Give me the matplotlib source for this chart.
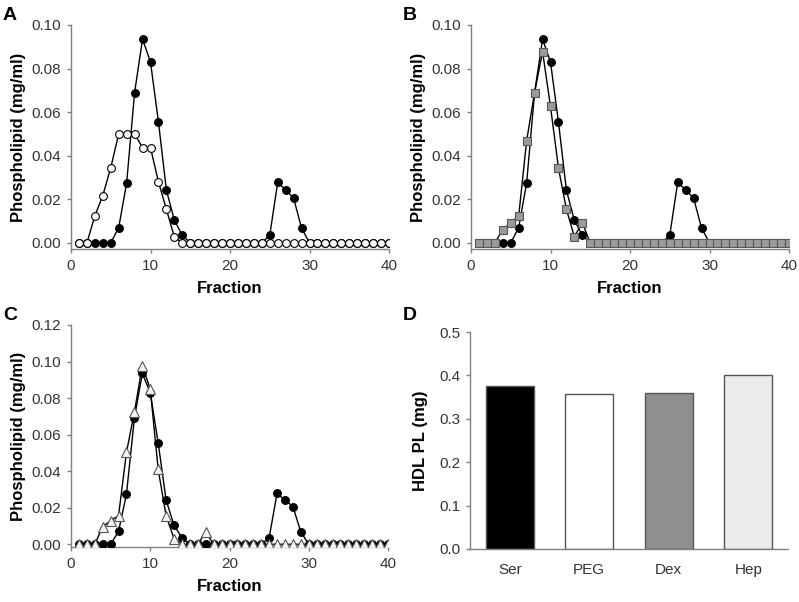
import numpy as np
import matplotlib
matplotlib.use("Agg")
import matplotlib.pyplot as plt

plt.rcParams['font.family'] = ['Liberation Sans', 'DejaVu Sans']

fraction = np.arange(1, 41)

# serum (black circles), same profile in A, B, C
ser = [0, 0, 0, 0, 0, 0.007, 0.0275, 0.069, 0.0935, 0.083,
       0.0555, 0.0242, 0.0104, 0.0035, 0, 0, 0, 0, 0, 0,
       0, 0, 0, 0, 0.0035, 0.0278, 0.0243, 0.0206, 0.0068, 0,
       0, 0, 0, 0, 0, 0, 0, 0, 0, 0]

# PEG (open circles)
peg = [0, 0, 0.0124, 0.0217, 0.0345, 0.050, 0.050, 0.050, 0.0437, 0.0437,
       0.028, 0.0154, 0.0027, 0, 0, 0, 0, 0, 0, 0,
       0, 0, 0, 0, 0, 0, 0, 0, 0, 0,
       0, 0, 0, 0, 0, 0, 0, 0, 0, 0]

# dextran (grey squares)
dex = [0, 0, 0, 0.0061, 0.0093, 0.0124, 0.0469, 0.069, 0.0878, 0.0626,
       0.0344, 0.0154, 0.0029, 0.0093, 0, 0, 0, 0, 0, 0,
       0, 0, 0, 0, 0, 0, 0, 0, 0, 0,
       0, 0, 0, 0, 0, 0, 0, 0, 0, 0]

# heparin (light triangles)
hep = [0, 0, 0, 0.0097, 0.0128, 0.0157, 0.0503, 0.0724, 0.0977, 0.085,
       0.041, 0.0157, 0.003, 0, 0, 0, 0.0066, 0, 0, 0,
       0, 0, 0, 0, 0, 0, 0, 0, 0, 0,
       0, 0, 0, 0, 0, 0, 0, 0, 0, 0]

bar_labels = ["Ser", "PEG", "Dex", "Hep"]
bar_values = [0.375, 0.356, 0.359, 0.402]
bar_colors = ["#000000", "#ffffff", "#8f8f8f", "#ececec"]

W, H = 799, 602
fig = plt.figure(figsize=(W / 100, H / 100), dpi=100)

def px_axes(l, r, t, b):
    return fig.add_axes([l / W, 1 - b / H, (r - l) / W, (b - t) / H])

axcol = "#808080"
tickcol = "#333333"

def style(ax):
    for s in ["top", "right"]:
        ax.spines[s].set_visible(False)
    for s in ["left", "bottom"]:
        ax.spines[s].set_color(axcol)
        ax.spines[s].set_linewidth(1.0)
    ax.tick_params(direction="out", length=3, width=1, color=axcol,
                   labelcolor=tickcol, labelsize=11, pad=4)

def profile_axes(ax):
    style(ax)
    ax.set_xlim(0, 40)
    ax.set_xticks([0, 10, 20, 30, 40])
    ax.set_xlabel("Fraction", fontsize=12, fontweight="bold", labelpad=6)
    ax.set_ylabel("Phospholipid (mg/ml)", fontsize=12, fontweight="bold", labelpad=4)

ms = 5.6
black_kw = dict(color="black", lw=1.0, marker="o", ms=ms, mfc="black", mec="black", mew=0.8)

# A
axA = px_axes(71, 389, 25, 249)
axA.plot(fraction, ser, **black_kw, zorder=3)
axA.plot(fraction, peg, color="black", lw=1.0, marker="o", ms=ms, mfc="white",
         mec="black", mew=0.8, zorder=4)
axA.set_ylim(-0.0028, 0.10)
axA.set_yticks(np.arange(0, 0.101, 0.02))
axA.set_yticklabels(["%.2f" % v for v in np.arange(0, 0.101, 0.02)])
profile_axes(axA)

# B
axB = px_axes(471, 789, 25, 249)
axB.plot(fraction, ser, **black_kw, zorder=3)
axB.plot(fraction, dex, color="black", lw=1.0, marker="s", ms=5.8, mfc="#9a9a9a",
         mec="#555555", mew=0.8, zorder=4)
axB.set_ylim(-0.0028, 0.10)
axB.set_yticks(np.arange(0, 0.101, 0.02))
axB.set_yticklabels(["%.2f" % v for v in np.arange(0, 0.101, 0.02)])
profile_axes(axB)

# C
axC = px_axes(71, 388, 325, 547)
axC.plot(fraction, ser, **black_kw, zorder=3)
axC.plot(fraction, hep, color="black", lw=1.0, marker="^", ms=6.5, mfc="#f2f2f2",
         mec="#555555", mew=0.8, zorder=4)
axC.set_ylim(-0.0015, 0.12)
axC.set_yticks(np.arange(0, 0.121, 0.02))
axC.set_yticklabels(["%.2f" % v for v in np.arange(0, 0.121, 0.02)])
profile_axes(axC)

# D
axD = px_axes(470, 788, 332, 549)
axD.bar(np.arange(len(bar_labels)), bar_values, width=0.6, color=bar_colors,
        edgecolor="#555555", linewidth=1.0)
style(axD)
axD.set_xlim(-0.5, 3.5)
axD.set_ylim(0, 0.5)
axD.set_xticks(np.arange(len(bar_labels)))
axD.set_xticklabels(bar_labels)
axD.tick_params(axis="x", length=0, pad=10)
axD.set_yticks(np.arange(0, 0.51, 0.1))
axD.set_yticklabels(["%.1f" % v for v in np.arange(0, 0.51, 0.1)])
axD.set_ylabel("HDL PL (mg)", fontsize=12, fontweight="bold", labelpad=8)

for lab, x, y in [("A", 3, 20), ("B", 403, 20), ("C", 3, 320), ("D", 403, 320)]:
    fig.text(x / W, 1 - y / H, lab, fontsize=14, fontweight="bold", ha="left", va="baseline")

fig.savefig("out.png", dpi=100)
